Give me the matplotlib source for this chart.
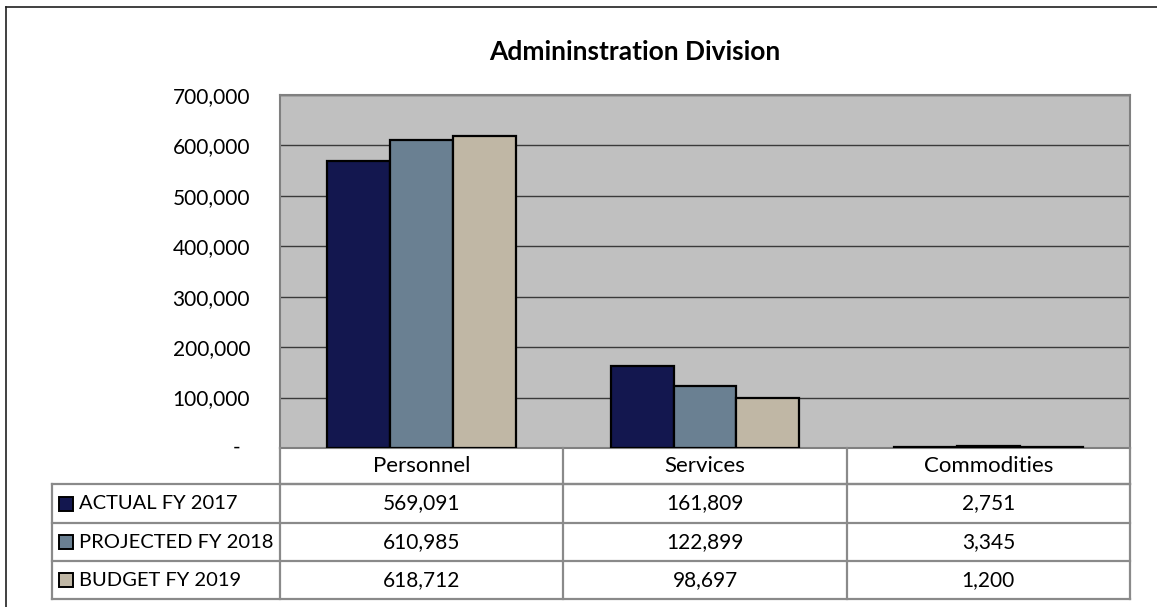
import matplotlib.pyplot as plt
from matplotlib.lines import Line2D
from matplotlib.patches import Rectangle
from matplotlib import transforms
import numpy as np

categories = ['Personnel', 'Services', 'Commodities']
series = ['ACTUAL FY 2017', 'PROJECTED FY 2018', 'BUDGET FY 2019']
actual_2017 = [569091, 161809, 2751]
projected_2018 = [610985, 122899, 3345]
budget_2019 = [618712, 98697, 1200]
colors = ['#13174f', '#6a8092', '#c0b7a5']
yticks = [0, 100000, 200000, 300000, 400000, 500000, 600000, 700000]

plt.rcParams['font.family'] = ['Lato', 'DejaVu Sans']

W, H = 1157, 607
fig = plt.figure(figsize=(W / 100, H / 100), dpi=100)


def fx(px):
    return px / W


def fy(py):
    return 1 - py / H


# plot area in pixel coordinates
left, right, top, bottom = 280, 1130, 95, 448
ax = fig.add_axes([fx(left), fy(bottom), fx(right) - fx(left), fy(top) - fy(bottom)])
ax.set_facecolor('#c0c0c0')

x = np.arange(len(categories))
width = 2 / 9
all_values = [actual_2017, projected_2018, budget_2019]
for i, (vals, c) in enumerate(zip(all_values, colors)):
    ax.bar(x + (i - 1) * width, vals, width, color=c, edgecolor='black',
           linewidth=1.6, zorder=3)

ax.set_xlim(-0.5, len(categories) - 0.5)
ax.set_ylim(0, 700000)
ax.set_yticks(yticks)
ax.set_yticklabels(['' if v == 0 else f'{v:,.0f}' for v in yticks], fontsize=15)
ax.tick_params(axis='y', length=0, pad=21.5)
ax.set_xticks([])
ax.grid(axis='y', color='#3a3a3a', linewidth=1.0, zorder=1)
for s in ax.spines.values():
    s.set_color('#808080')
    s.set_linewidth(1.5)

# accounting-style dash for the zero tick, set in from the other labels
zero_tr = transforms.blended_transform_factory(fig.transFigure, ax.transData)
fig.text(fx(237), yticks[0], '-', transform=zero_tr, ha='center', va='center',
         fontsize=15)

fig.text(fx(635), fy(52), 'Admininstration Division',
         ha='center', va='center', fontsize=19, fontweight='bold')

# data table under the chart
grid_kw = dict(color='#8a8a8a', linewidth=1.6)
row_y = [448, 484, 523, 561, 599]
col_x = [52, 280] + [left + (right - left) * (k + 1) / 3 for k in range(3)]


def hline(x0, x1, y):
    fig.add_artist(Line2D([fx(x0), fx(x1)], [fy(y), fy(y)], **grid_kw))


def vline(xp, y0, y1):
    fig.add_artist(Line2D([fx(xp), fx(xp)], [fy(y0), fy(y1)], **grid_kw))


hline(280, right, row_y[1])
for yy in row_y[1:]:
    hline(52, right, yy)
vline(52, row_y[1], row_y[-1])
for xx in col_x[1:]:
    vline(xx, row_y[0], row_y[-1])

for k, cat in enumerate(categories):
    cx = (col_x[k + 1] + col_x[k + 2]) / 2
    fig.text(fx(cx), fy((row_y[0] + row_y[1]) / 2), cat,
             ha='center', va='center', fontsize=16)

for r, (name, vals, c) in enumerate(zip(series, all_values, colors)):
    yc = (row_y[r + 1] + row_y[r + 2]) / 2
    fig.add_artist(Rectangle((fx(59), fy(yc + 7)), fx(14), 14 / H,
                             facecolor=c, edgecolor='black', linewidth=1.4))
    fig.text(fx(79), fy(yc), name, ha='left', va='center', fontsize=14.5)
    for k, v in enumerate(vals):
        cx = (col_x[k + 1] + col_x[k + 2]) / 2
        fig.text(fx(cx), fy(yc), f'{v:,.0f}', ha='center', va='center',
                 fontsize=15)

# outer chart frame
frame_kw = dict(color='#202020', linewidth=1.2)
fig.add_artist(Line2D([fx(6), fx(6)], [fy(7), fy(607)], **frame_kw))
fig.add_artist(Line2D([fx(6), fx(1157)], [fy(7), fy(7)], **frame_kw))

fig.savefig('out.png', dpi=100)
